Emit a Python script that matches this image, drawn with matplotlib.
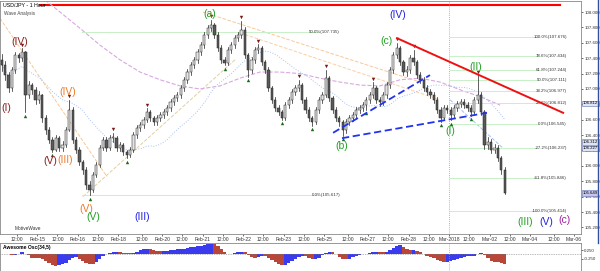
import numpy as np
import pandas as pd
import matplotlib
matplotlib.use('Agg')
import matplotlib.pyplot as plt

plt.rcParams['font.family'] = ['Liberation Sans', 'DejaVu Sans']

# USD/JPY, 2-hour bars (14 Feb - 2 Mar 2018)
first_open = 107.38
closes = [107.31, 107.18, 107.01, 107.25, 107.44, 107.40, 107.48, 106.92, 107.05, 106.99,
          106.86, 106.92, 106.62, 106.47, 106.34, 106.21, 106.36, 106.23, 106.27, 106.47,
          106.73, 106.34, 106.21, 106.05, 105.95, 105.75, 105.69, 105.88, 106.01, 106.23,
          106.34, 106.23, 106.36, 106.36, 106.23, 106.27, 106.18, 106.14, 106.21, 106.40,
          106.49, 106.53, 106.60, 106.70, 106.62, 106.57, 106.62, 106.66, 106.70, 106.75,
          106.83, 106.88, 106.92, 107.01, 107.12, 107.22, 107.31, 107.38, 107.48, 107.57,
          107.70, 107.79, 107.83, 107.70, 107.53, 107.38, 107.34, 107.51, 107.57, 107.66,
          107.70, 107.77, 107.44, 107.25, 107.38, 107.51, 107.53, 107.35, 107.25, 107.01,
          106.86, 106.75, 106.70, 106.62, 106.79, 106.86, 106.96, 107.01, 107.05, 106.86,
          106.73, 106.62, 106.57, 106.73, 106.86, 106.92, 107.14, 106.88, 106.73, 106.62,
          106.57, 106.47, 106.57, 106.62, 106.66, 106.73, 106.75, 106.79, 106.86, 106.92,
          107.01, 106.86, 106.83, 106.92, 107.05, 107.25, 107.44, 107.53, 107.35, 107.22,
          107.25, 107.40, 107.35, 107.18, 107.12, 107.01, 106.96, 106.92, 106.86, 106.73,
          106.62, 106.75, 106.73, 106.66, 106.75, 106.80, 106.83, 106.79, 106.75, 106.70,
          106.86, 106.92, 106.70, 106.27, 106.31, 106.21, 106.23, 106.10, 105.95, 105.65]
highs = [107.45, 107.36, 107.22, 107.29, 107.48, 107.47, 107.53, 107.50, 107.10, 107.08,
         107.02, 106.97, 106.94, 106.66, 106.51, 106.38, 106.40, 106.39, 106.32, 106.51,
         106.86, 106.76, 106.37, 106.24, 106.08, 105.98, 105.80, 105.92, 106.05, 106.27,
         106.38, 106.37, 106.40, 106.43, 106.39, 106.31, 106.30, 106.21, 106.25, 106.44,
         106.53, 106.57, 106.64, 106.75, 106.73, 106.65, 106.66, 106.70, 106.74, 106.79,
         106.87, 106.92, 106.96, 107.05, 107.16, 107.26, 107.35, 107.42, 107.52, 107.61,
         107.74, 107.83, 107.90, 107.86, 107.74, 107.57, 107.42, 107.55, 107.61, 107.70,
         107.74, 107.89, 107.80, 107.47, 107.42, 107.55, 107.58, 107.56, 107.38, 107.28,
         107.04, 106.89, 106.79, 106.73, 106.83, 106.90, 107.00, 107.05, 107.12, 107.08,
         106.89, 106.76, 106.65, 106.77, 106.90, 106.96, 107.25, 107.17, 106.91, 106.76,
         106.65, 106.60, 106.61, 106.66, 106.70, 106.77, 106.79, 106.83, 106.90, 106.96,
         107.09, 107.04, 106.90, 106.96, 107.09, 107.29, 107.48, 107.60, 107.56, 107.38,
         107.30, 107.44, 107.51, 107.38, 107.22, 107.15, 107.05, 107.00, 106.96, 106.89,
         106.76, 106.79, 106.79, 106.77, 106.79, 106.84, 106.87, 106.87, 106.83, 106.79,
         106.90, 107.18, 106.96, 106.73, 106.37, 106.35, 106.29, 106.27, 106.13, 105.99]
lows = [107.24, 107.12, 106.96, 106.98, 107.21, 107.35, 107.36, 106.70, 106.88, 106.93,
        106.81, 106.82, 106.57, 106.42, 106.30, 106.18, 106.19, 106.19, 106.19, 106.24,
        106.45, 106.30, 106.17, 106.01, 105.90, 105.70, 105.62, 105.66, 105.85, 105.98,
        106.20, 106.19, 106.20, 106.31, 106.19, 106.19, 106.14, 106.10, 106.11, 106.18,
        106.36, 106.45, 106.49, 106.57, 106.58, 106.53, 106.53, 106.58, 106.62, 106.66,
        106.71, 106.79, 106.84, 106.88, 106.97, 107.08, 107.18, 107.27, 107.34, 107.44,
        107.53, 107.66, 107.75, 107.66, 107.49, 107.34, 107.31, 107.31, 107.47, 107.53,
        107.62, 107.66, 107.40, 107.16, 107.21, 107.34, 107.47, 107.31, 107.21, 106.97,
        106.82, 106.71, 106.66, 106.60, 106.60, 106.75, 106.82, 106.92, 106.97, 106.82,
        106.69, 106.58, 106.52, 106.54, 106.69, 106.82, 106.89, 106.84, 106.69, 106.58,
        106.52, 106.39, 106.43, 106.53, 106.58, 106.62, 106.69, 106.71, 106.73, 106.82,
        106.88, 106.82, 106.78, 106.79, 106.88, 107.01, 107.21, 107.40, 107.31, 107.18,
        107.17, 107.21, 107.31, 107.14, 107.08, 106.97, 106.92, 106.88, 106.82, 106.69,
        106.57, 106.59, 106.69, 106.59, 106.62, 106.71, 106.76, 106.75, 106.71, 106.65,
        106.67, 106.82, 106.66, 106.22, 106.22, 106.17, 106.17, 106.06, 105.90, 105.63]

peak_bars = [6, 20, 33, 43, 62, 71, 76, 88, 96, 110, 117, 122, 141]
trough_bars = [7, 15, 26, 37, 66, 73, 83, 92, 101, 108, 130, 133, 139]

# slow moving average (purple dashed), read at a few hours
ma_hours = [28.6, 37.5, 49.3, 61.2, 73.0, 84.9, 96.7, 108.6, 120.4, 132.3, 144.1, 156.0,
            167.8, 179.7, 191.6, 203.4, 215.3, 227.1, 239.0, 250.9, 262.7, 274.5, 286.4, 298.3]
ma_prices = [108.16, 108.00, 107.79, 107.57, 107.38, 107.22, 107.12, 107.04, 107.00, 107.04,
             107.14, 107.22, 107.22, 107.20, 107.14, 107.09, 107.05, 107.04, 107.12, 107.14,
             107.09, 106.99, 106.90, 106.79]

fib_right_pct = ['100.0%', '78.6%', '61.8%', '50.0%', '38.2%', '23.6%', '0.0%', '-27.2%', '-61.8%', '-100.0%']
fib_right_val = [107.676, 107.434, 107.244, 107.111, 106.977, 106.812, 106.545, 106.237, 105.846, 105.414]
fib_left_pct = ['50.0%', '0.0%']
fib_left_val = [107.735, 105.617]

waves = [('(I)', 5.5, 106.75, '#8b1e1e'), ('(IV)', 13.8, 107.61, '#8b1e1e'),
         ('(V)', 31.6, 106.06, '#8b1e1e'), ('(III)', 40.5, 106.08, '#f07a28'),
         ('(IV)', 42.2, 106.96, '#f07a28'), ('(V)', 52.9, 105.44, '#f07a28'),
         ('(V)', 57.0, 105.34, '#22a022'), ('(III)', 86.1, 105.34, '#2222e0'),
         ('(a)', 126.4, 107.97, '#22a022'), ('(b)', 204.6, 106.26, '#22a022'),
         ('(c)', 230.7, 107.62, '#22a022'), ('(IV)', 237.8, 107.96, '#2222e0'),
         ('(I)', 268.6, 106.45, '#22a022'), ('(II)', 284.0, 107.29, '#22a022'),
         ('(III)', 313.0, 105.27, '#22a022'), ('(V)', 325.5, 105.27, '#2222e0'),
         ('(c)', 336.7, 105.30, '#a020a0')]

# trading-hour index (weekend gap removed)
stamps = pd.date_range('2018-02-14 00:00', '2018-03-06 00:00', freq='h')
stamps = stamps[(stamps.weekday != 5) & ~((stamps.weekday == 6) & (stamps.hour < 22))]

opens = [first_open] + closes[:-1]
n = len(closes)
bar_h = np.arange(n) * 2 + 3

fig = plt.figure(figsize=(6, 2.71), dpi=100)
ax = fig.add_axes([0, 1 - 234 / 271, 581 / 600, 233 / 271])
ao_ax = fig.add_axes([0, 0, 581 / 600, 28 / 271])

xmin, xmax = 1.93, 346.2
ax.set_xlim(xmin, xmax)
ax.set_ylim(105.114, 108.144)

# helper lines
ax.plot([25.6, 333.9], [108.09, 108.09], color='red', lw=1.5)
ax.axvline(268, color='#999999', lw=0.6, ls=(0, (1, 1.5)))
ao_ax.axvline(268, color='#999999', lw=0.6, ls=(0, (1, 1.5)))
ax.plot([1.93, 65.3], [107.92, 105.86], color='#f8c898', lw=0.7, ls='--')
ax.plot([51.1, 141.2], [105.60, 107.38], color='#e0d0a0', lw=0.7, ls='--')
ax.plot([122.2, 250.8], [108.0, 107.09], color='#f8c898', lw=0.7, ls='--')
ax.plot([144.1, 262.7], [107.73, 106.86], color='#f8d0a8', lw=0.7, ls='--')
ax.plot([268.6, 300.0], [106.86, 106.23], color='#a8c0f0', lw=0.7, ls='--')
ax.plot(ma_hours, ma_prices, color='#d8a8e0', lw=0.8, ls='--')
fast_ma = pd.Series(closes).rolling(25, min_periods=1).mean()
ax.plot(bar_h, fast_ma, color='#a8c0f0', lw=0.7, ls=':')

for pct, val in zip(fib_right_pct, fib_right_val):
    ax.plot([268.6, 320.7], [val, val], color='#c8f0c8', lw=0.7)
    ax.text(337.9, val, f'{pct}({val:.3f})', fontsize=3.2, ha='right', va='center', color='#333333')
for pct, val in zip(fib_left_pct, fib_left_val):
    ax.plot([50.5, 190.4], [val, val], color='#c8f0c8', lw=0.7)
    ax.text(203.4, val, f'{pct}({val:.3f})', fontsize=3.2, ha='right', va='center', color='#333333')

# candles
for h, o, hi, lo, c in zip(bar_h, opens, highs, lows, closes):
    ax.plot([h, h], [lo, hi], color='#202020', lw=0.5, zorder=3)
    up = c >= o
    ax.bar(h, max(abs(c - o), 0.01), bottom=min(o, c), width=1.3,
           color='#e4e4e4' if up else '#5a5a5a', edgecolor='#202020', lw=0.35, zorder=4)

ax.scatter(bar_h[peak_bars], np.array(highs)[peak_bars] + 0.045, marker='v', s=6,
           color='#7a1a1a', zorder=5, lw=0)
ax.scatter(bar_h[trough_bars], np.array(lows)[trough_bars] - 0.045, marker='^', s=6,
           color='#1a6a1a', zorder=5, lw=0)

# wave trend lines
ax.plot([237.2, 335.6], [107.66, 106.69], color='#ee1111', lw=1.4, zorder=6)
ax.plot([199.3, 256.7], [106.43, 107.18], color='#2233ee', lw=1.3, ls=(0, (4, 2)), zorder=6)
ax.plot([204.6, 290.5], [106.36, 106.69], color='#2233ee', lw=1.3, ls=(0, (4, 2)), zorder=6)

for txt, h, p, col in waves:
    ax.text(h, p, txt, color=col, fontsize=7.5, ha='center', va='center', zorder=7)

# time axis
tick_pos, tick_lab = [], []
last_day = -100
for i, t in enumerate(stamps):
    if t.hour == 12 and xmin < i < xmax:
        tick_pos.append(i)
        tick_lab.append('12:00')
    if t.hour == 0 or (t.weekday() == 6 and t.hour == 22):
        if i - last_day > 6 and xmin < i < xmax:
            tick_pos.append(i)
            tick_lab.append('Mar-2018' if (t.month == 3 and t.day == 1) else t.strftime('%b-%d'))
        last_day = i
ax.set_xticks(tick_pos)
ax.set_xticklabels(tick_lab, fontsize=3.6, color='#333333')
ax.tick_params(axis='x', length=1.5, width=0.4, pad=1.0)

ax.yaxis.tick_right()
yt = np.arange(105.2, 108.01, 0.2)
ax.set_yticks(yt)
ax.set_yticklabels([f'{v:.3f}' for v in yt], fontsize=3.2, color='#333333')
ax.tick_params(axis='y', length=1.5, width=0.4, pad=0.8)
for s in ax.spines.values():
    s.set_color('#888888')
    s.set_linewidth(0.6)

for val, txt, fc in [(106.812, '106.812', '#dde4f4'), (106.312, '106.312', '#dde4f4'),
                     (106.227, '106.227', '#dde4f4'), (105.649, '105.649', '#c8c4ec')]:
    ax.text(xmax + 1.0, val, txt, fontsize=3.1, va='center', ha='left', clip_on=False,
            bbox=dict(boxstyle='square,pad=0.15', fc=fc, ec='#6070b0', lw=0.4))

ax.text(0.005, 0.992, 'USD/JPY - 1 Hour', transform=ax.transAxes, fontsize=3.8, va='top')
ax.text(0.007, 0.955, 'Wave Analysis', transform=ax.transAxes, fontsize=3.4, va='top', color='#444444')
ax.text(0.025, 0.012, 'MotiveWave', transform=ax.transAxes, fontsize=3.4, va='bottom', color='#333333')

# awesome oscillator from the bars
median = (pd.Series(highs) + pd.Series(lows)) / 2
ao = median.rolling(3, min_periods=1).mean() - median.rolling(17, min_periods=1).mean()
ao_col = ['#3a3aee' if d >= 0 else '#b8473a' for d in ao.diff().fillna(0)]
ao_ax.bar(bar_h, ao, width=2, color=ao_col, lw=0)
ao_ax.axhline(0, color='#777777', lw=0.5, ls=(0, (1, 1.5)))
ao_ax.set_xlim(xmin, xmax)
ao_ax.set_ylim(-0.92, 0.64)
ao_ax.set_xticks([])
ao_ax.yaxis.tick_right()
ao_ax.set_yticks([-0.25, 0.25])
ao_ax.set_yticklabels(['-0.250', '0.250'], fontsize=3.2, color='#333333')
ao_ax.tick_params(axis='y', length=1.5, width=0.4, pad=0.8)
for s in ao_ax.spines.values():
    s.set_color('#888888')
    s.set_linewidth(0.6)
ao_ax.text(0.005, 0.93, 'Awesome Osc(34,5)', transform=ao_ax.transAxes, fontsize=3.6,
           va='top', fontweight='bold')

fig.add_artist(plt.Line2D([598 / 600, 598 / 600], [1 - 243 / 271, 1], color='#3050a0', lw=1.0))

fig.savefig('out.png', dpi=100)
